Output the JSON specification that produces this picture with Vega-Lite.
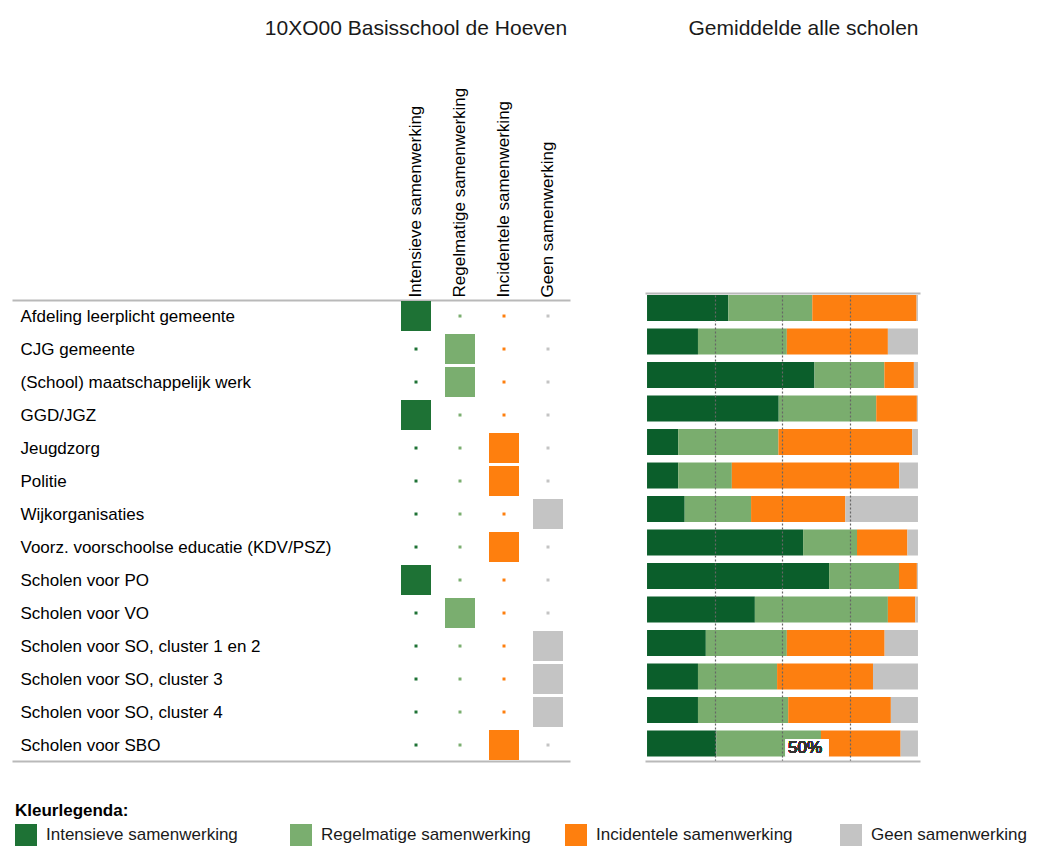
{
  "$schema": "https://vega.github.io/schema/vega-lite/v6.json",
  "padding": {"left": 12, "top": 18, "right": 0, "bottom": 0},
  "background": "white",
  "config": {
    "font": "Liberation Sans",
    "view": {"stroke": null},
    "title": {"fontSize": 21, "fontWeight": "normal", "color": "#1a1a1a"}
  },
  "datasets": {
    "samenwerking": [
      {"categorie": "Afdeling leerplicht gemeente", "niveau": "Intensieve samenwerking", "rang": 1, "gemiddelde": 30, "school": 1},
      {"categorie": "Afdeling leerplicht gemeente", "niveau": "Regelmatige samenwerking", "rang": 2, "gemiddelde": 31, "school": 0},
      {"categorie": "Afdeling leerplicht gemeente", "niveau": "Incidentele samenwerking", "rang": 3, "gemiddelde": 38.5, "school": 0},
      {"categorie": "Afdeling leerplicht gemeente", "niveau": "Geen samenwerking", "rang": 4, "gemiddelde": 0.5, "school": 0},
      {"categorie": "CJG gemeente", "niveau": "Intensieve samenwerking", "rang": 1, "gemiddelde": 18.8, "school": 0},
      {"categorie": "CJG gemeente", "niveau": "Regelmatige samenwerking", "rang": 2, "gemiddelde": 32.8, "school": 1},
      {"categorie": "CJG gemeente", "niveau": "Incidentele samenwerking", "rang": 3, "gemiddelde": 37.3, "school": 0},
      {"categorie": "CJG gemeente", "niveau": "Geen samenwerking", "rang": 4, "gemiddelde": 11.1, "school": 0},
      {"categorie": "(School) maatschappelijk werk", "niveau": "Intensieve samenwerking", "rang": 1, "gemiddelde": 61.8, "school": 0},
      {"categorie": "(School) maatschappelijk werk", "niveau": "Regelmatige samenwerking", "rang": 2, "gemiddelde": 25.8, "school": 1},
      {"categorie": "(School) maatschappelijk werk", "niveau": "Incidentele samenwerking", "rang": 3, "gemiddelde": 10.9, "school": 0},
      {"categorie": "(School) maatschappelijk werk", "niveau": "Geen samenwerking", "rang": 4, "gemiddelde": 1.5, "school": 0},
      {"categorie": "GGD/JGZ", "niveau": "Intensieve samenwerking", "rang": 1, "gemiddelde": 48.6, "school": 1},
      {"categorie": "GGD/JGZ", "niveau": "Regelmatige samenwerking", "rang": 2, "gemiddelde": 36, "school": 0},
      {"categorie": "GGD/JGZ", "niveau": "Incidentele samenwerking", "rang": 3, "gemiddelde": 15, "school": 0},
      {"categorie": "GGD/JGZ", "niveau": "Geen samenwerking", "rang": 4, "gemiddelde": 0.4, "school": 0},
      {"categorie": "Jeugdzorg", "niveau": "Intensieve samenwerking", "rang": 1, "gemiddelde": 11.5, "school": 0},
      {"categorie": "Jeugdzorg", "niveau": "Regelmatige samenwerking", "rang": 2, "gemiddelde": 37, "school": 0},
      {"categorie": "Jeugdzorg", "niveau": "Incidentele samenwerking", "rang": 3, "gemiddelde": 49.4, "school": 1},
      {"categorie": "Jeugdzorg", "niveau": "Geen samenwerking", "rang": 4, "gemiddelde": 2.1, "school": 0},
      {"categorie": "Politie", "niveau": "Intensieve samenwerking", "rang": 1, "gemiddelde": 11.5, "school": 0},
      {"categorie": "Politie", "niveau": "Regelmatige samenwerking", "rang": 2, "gemiddelde": 19.8, "school": 0},
      {"categorie": "Politie", "niveau": "Incidentele samenwerking", "rang": 3, "gemiddelde": 61.8, "school": 1},
      {"categorie": "Politie", "niveau": "Geen samenwerking", "rang": 4, "gemiddelde": 6.9, "school": 0},
      {"categorie": "Wijkorganisaties", "niveau": "Intensieve samenwerking", "rang": 1, "gemiddelde": 13.9, "school": 0},
      {"categorie": "Wijkorganisaties", "niveau": "Regelmatige samenwerking", "rang": 2, "gemiddelde": 24.5, "school": 0},
      {"categorie": "Wijkorganisaties", "niveau": "Incidentele samenwerking", "rang": 3, "gemiddelde": 34.8, "school": 0},
      {"categorie": "Wijkorganisaties", "niveau": "Geen samenwerking", "rang": 4, "gemiddelde": 26.8, "school": 1},
      {"categorie": "Voorz. voorschoolse educatie (KDV/PSZ)", "niveau": "Intensieve samenwerking", "rang": 1, "gemiddelde": 57.6, "school": 0},
      {"categorie": "Voorz. voorschoolse educatie (KDV/PSZ)", "niveau": "Regelmatige samenwerking", "rang": 2, "gemiddelde": 19.9, "school": 0},
      {"categorie": "Voorz. voorschoolse educatie (KDV/PSZ)", "niveau": "Incidentele samenwerking", "rang": 3, "gemiddelde": 18.6, "school": 1},
      {"categorie": "Voorz. voorschoolse educatie (KDV/PSZ)", "niveau": "Geen samenwerking", "rang": 4, "gemiddelde": 3.9, "school": 0},
      {"categorie": "Scholen voor PO", "niveau": "Intensieve samenwerking", "rang": 1, "gemiddelde": 67.2, "school": 1},
      {"categorie": "Scholen voor PO", "niveau": "Regelmatige samenwerking", "rang": 2, "gemiddelde": 25.8, "school": 0},
      {"categorie": "Scholen voor PO", "niveau": "Incidentele samenwerking", "rang": 3, "gemiddelde": 6.6, "school": 0},
      {"categorie": "Scholen voor PO", "niveau": "Geen samenwerking", "rang": 4, "gemiddelde": 0.4, "school": 0},
      {"categorie": "Scholen voor VO", "niveau": "Intensieve samenwerking", "rang": 1, "gemiddelde": 39.8, "school": 0},
      {"categorie": "Scholen voor VO", "niveau": "Regelmatige samenwerking", "rang": 2, "gemiddelde": 49.1, "school": 1},
      {"categorie": "Scholen voor VO", "niveau": "Incidentele samenwerking", "rang": 3, "gemiddelde": 10.1, "school": 0},
      {"categorie": "Scholen voor VO", "niveau": "Geen samenwerking", "rang": 4, "gemiddelde": 1, "school": 0},
      {"categorie": "Scholen voor SO, cluster 1 en 2", "niveau": "Intensieve samenwerking", "rang": 1, "gemiddelde": 21.7, "school": 0},
      {"categorie": "Scholen voor SO, cluster 1 en 2", "niveau": "Regelmatige samenwerking", "rang": 2, "gemiddelde": 29.9, "school": 0},
      {"categorie": "Scholen voor SO, cluster 1 en 2", "niveau": "Incidentele samenwerking", "rang": 3, "gemiddelde": 36.1, "school": 0},
      {"categorie": "Scholen voor SO, cluster 1 en 2", "niveau": "Geen samenwerking", "rang": 4, "gemiddelde": 12.3, "school": 1},
      {"categorie": "Scholen voor SO, cluster 3", "niveau": "Intensieve samenwerking", "rang": 1, "gemiddelde": 18.8, "school": 0},
      {"categorie": "Scholen voor SO, cluster 3", "niveau": "Regelmatige samenwerking", "rang": 2, "gemiddelde": 29.2, "school": 0},
      {"categorie": "Scholen voor SO, cluster 3", "niveau": "Incidentele samenwerking", "rang": 3, "gemiddelde": 35.4, "school": 0},
      {"categorie": "Scholen voor SO, cluster 3", "niveau": "Geen samenwerking", "rang": 4, "gemiddelde": 16.6, "school": 1},
      {"categorie": "Scholen voor SO, cluster 4", "niveau": "Intensieve samenwerking", "rang": 1, "gemiddelde": 18.8, "school": 0},
      {"categorie": "Scholen voor SO, cluster 4", "niveau": "Regelmatige samenwerking", "rang": 2, "gemiddelde": 33.3, "school": 0},
      {"categorie": "Scholen voor SO, cluster 4", "niveau": "Incidentele samenwerking", "rang": 3, "gemiddelde": 37.9, "school": 0},
      {"categorie": "Scholen voor SO, cluster 4", "niveau": "Geen samenwerking", "rang": 4, "gemiddelde": 10, "school": 1},
      {"categorie": "Scholen voor SBO", "niveau": "Intensieve samenwerking", "rang": 1, "gemiddelde": 25.6, "school": 0},
      {"categorie": "Scholen voor SBO", "niveau": "Regelmatige samenwerking", "rang": 2, "gemiddelde": 38.6, "school": 0},
      {"categorie": "Scholen voor SBO", "niveau": "Incidentele samenwerking", "rang": 3, "gemiddelde": 29.4, "school": 1},
      {"categorie": "Scholen voor SBO", "niveau": "Geen samenwerking", "rang": 4, "gemiddelde": 6.4, "school": 0}
    ]
  },
  "data": {"name": "samenwerking"},
  "spacing": 75,
  "bounds": "flush",
  "resolve": {"scale": {"color": "independent"}, "legend": {"color": "independent"}},
  "hconcat": [
    {
      "width": 558,
      "height": 468,
      "title": {"text": "10XO00 Basisschool de Hoeven", "anchor": "middle", "frame": "group", "dx": 125, "offset": 48},
      "resolve": {"axis": {"x": "independent"}},
      "layer": [
        {
          "transform": [{"filter": "datum.school == 0"}],
          "mark": {"type": "point", "shape": "square", "filled": true, "size": 9, "opacity": 1},
          "encoding": {
            "x": {
              "field": "niveau", "type": "nominal",
              "scale": {"type": "band", "domain": ["_1", "_2", "_3", "_4", "_5", "_6", "_7", "Intensieve samenwerking", "Regelmatige samenwerking", "Incidentele samenwerking", "Geen samenwerking"], "paddingInner": 0, "paddingOuter": 0.841, "align": 1},
              "axis": {"orient": "top", "title": null, "values": ["Intensieve samenwerking", "Regelmatige samenwerking", "Incidentele samenwerking", "Geen samenwerking"], "labelAngle": -90, "labelFontSize": 17, "labelColor": "#000", "labelPadding": 3, "labelLimit": 400, "ticks": false, "domainColor": "#b9b9b9", "domainWidth": 2, "offset": -7}
            },
            "y": {
              "field": "categorie", "type": "nominal",
              "sort": ["Afdeling leerplicht gemeente", "CJG gemeente", "(School) maatschappelijk werk", "GGD/JGZ", "Jeugdzorg", "Politie", "Wijkorganisaties", "Voorz. voorschoolse educatie (KDV/PSZ)", "Scholen voor PO", "Scholen voor VO", "Scholen voor SO, cluster 1 en 2", "Scholen voor SO, cluster 3", "Scholen voor SO, cluster 4", "Scholen voor SBO"],
              "scale": {"padding": 0.591, "align": 0.59},
              "axis": {"title": null, "labelAlign": "left", "labelPadding": -8, "labelFontSize": 17, "labelColor": "#000", "labelLimit": 500, "ticks": false, "domain": false}
            },
            "color": {
              "field": "niveau", "type": "nominal",
              "scale": {"domain": ["Intensieve samenwerking", "Regelmatige samenwerking", "Incidentele samenwerking", "Geen samenwerking"], "range": ["#1e7235", "#7aae6f", "#fe7f0e", "#c4c4c4"]},
              "legend": {"orient": "none", "legendX": 3, "legendY": 510, "direction": "horizontal", "columns": 4, "gridAlign": "all", "columnPadding": 34, "title": "Kleurlegenda:", "titleFontSize": 17, "titleFontWeight": "bold", "titleColor": "#000", "titlePadding": 4, "labelFontSize": 17, "labelColor": "#1a1a1a", "labelOffset": 9, "labelLimit": 400, "symbolType": "square", "symbolSize": 484, "symbolStrokeWidth": 0, "symbolOpacity": 1}
            }
          }
        },
        {
          "transform": [{"filter": "datum.school == 1"}],
          "mark": {"type": "point", "shape": "square", "filled": true, "size": 900, "opacity": 1},
          "encoding": {
            "x": {
              "field": "niveau", "type": "nominal",
              "scale": {"type": "band", "domain": ["_1", "_2", "_3", "_4", "_5", "_6", "_7", "Intensieve samenwerking", "Regelmatige samenwerking", "Incidentele samenwerking", "Geen samenwerking"], "paddingInner": 0, "paddingOuter": 0.841, "align": 1},
              "axis": {"orient": "bottom", "title": null, "labels": false, "ticks": false, "values": [], "domainColor": "#b9b9b9", "domainWidth": 2}
            },
            "y": {
              "field": "categorie", "type": "nominal",
              "sort": ["Afdeling leerplicht gemeente", "CJG gemeente", "(School) maatschappelijk werk", "GGD/JGZ", "Jeugdzorg", "Politie", "Wijkorganisaties", "Voorz. voorschoolse educatie (KDV/PSZ)", "Scholen voor PO", "Scholen voor VO", "Scholen voor SO, cluster 1 en 2", "Scholen voor SO, cluster 3", "Scholen voor SO, cluster 4", "Scholen voor SBO"],
              "scale": {"padding": 0.591, "align": 0.59},
              "axis": {"title": null, "labelAlign": "left", "labelPadding": -8, "labelFontSize": 17, "labelColor": "#000", "labelLimit": 500, "ticks": false, "domain": false}
            },
            "color": {
              "field": "niveau", "type": "nominal",
              "scale": {"domain": ["Intensieve samenwerking", "Regelmatige samenwerking", "Incidentele samenwerking", "Geen samenwerking"], "range": ["#1e7235", "#7aae6f", "#fe7f0e", "#c4c4c4"]},
              "legend": {"orient": "none", "legendX": 3, "legendY": 510, "direction": "horizontal", "columns": 4, "gridAlign": "all", "columnPadding": 34, "title": "Kleurlegenda:", "titleFontSize": 17, "titleFontWeight": "bold", "titleColor": "#000", "titlePadding": 4, "labelFontSize": 17, "labelColor": "#1a1a1a", "labelOffset": 9, "labelLimit": 400, "symbolType": "square", "symbolSize": 484, "symbolStrokeWidth": 0, "symbolOpacity": 1}
            }
          }
        }
      ]
    },
    {
      "width": 275,
      "height": 468,
      "title": {"text": "Gemiddelde alle scholen", "anchor": "middle", "frame": "group", "dx": 21, "offset": 254},
      "resolve": {"axis": {"x": "independent"}},
      "layer": [
        {
          "mark": {"type": "bar"},
          "encoding": {
            "x": {
              "field": "gemiddelde", "type": "quantitative", "stack": "normalize",
              "scale": {"domain": [-0.0075, 1.0075], "nice": false, "zero": false},
              "axis": {"orient": "bottom", "title": null, "values": [0.25, 0.5, 0.75], "grid": true, "gridDash": [2, 2], "gridColor": "#666666", "gridWidth": 1.2, "labels": false, "ticks": false, "domainColor": "#b9b9b9", "domainWidth": 2, "zindex": 1}
            },
            "y": {
              "field": "categorie", "type": "nominal",
              "sort": ["Afdeling leerplicht gemeente", "CJG gemeente", "(School) maatschappelijk werk", "GGD/JGZ", "Jeugdzorg", "Politie", "Wijkorganisaties", "Voorz. voorschoolse educatie (KDV/PSZ)", "Scholen voor PO", "Scholen voor VO", "Scholen voor SO, cluster 1 en 2", "Scholen voor SO, cluster 3", "Scholen voor SO, cluster 4", "Scholen voor SBO"],
              "scale": {"paddingInner": 0.224, "paddingOuter": 0.097, "align": 0.31},
              "axis": null
            },
            "color": {
              "field": "niveau", "type": "nominal",
              "scale": {"domain": ["Intensieve samenwerking", "Regelmatige samenwerking", "Incidentele samenwerking", "Geen samenwerking"], "range": ["#0b5e2b", "#7aad6e", "#fd7f10", "#c3c3c3"]},
              "legend": null
            },
            "order": {"field": "rang", "type": "quantitative", "sort": "ascending"}
          }
        },
        {
          "mark": {"type": "bar", "color": "white", "opacity": 0.6, "size": 17, "yOffset": 4.5},
          "encoding": {
            "x": {"datum": 0.512, "type": "quantitative", "axis": {"orient": "top", "title": null, "labels": false, "ticks": false, "grid": false, "domainColor": "#b9b9b9", "domainWidth": 2}},
            "x2": {"datum": 0.669},
            "y": {"datum": "Scholen voor SBO", "type": "nominal", "axis": null}
          }
        },
        {
          "mark": {"type": "text", "text": "50%", "fontSize": 17, "color": "#333", "align": "left", "baseline": "middle", "dx": 5.5, "dy": 4.5},
          "encoding": {
            "x": {"datum": 0.5, "type": "quantitative", "axis": null},
            "y": {"datum": "Scholen voor SBO", "type": "nominal", "axis": null}
          }
        }
      ]
    }
  ]
}
